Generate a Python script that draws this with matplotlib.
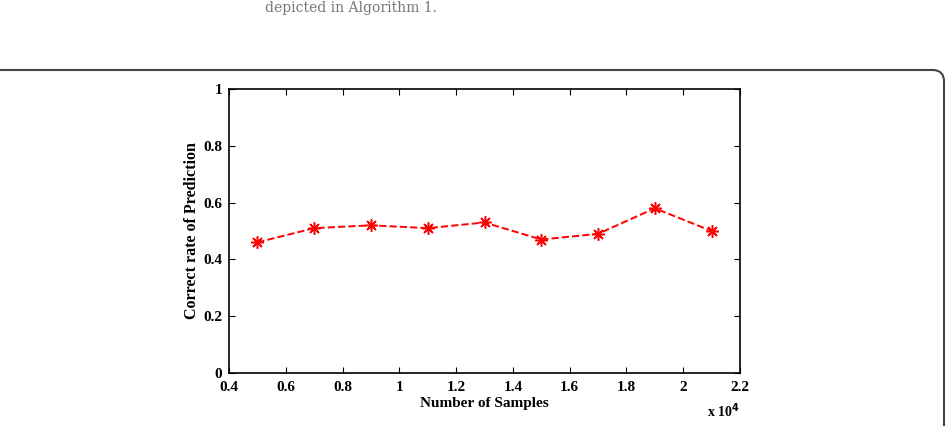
import matplotlib
matplotlib.use("Agg")
import matplotlib.pyplot as plt
from matplotlib.patches import FancyBboxPatch

# values
samples = [0.5, 0.7, 0.9, 1.1, 1.3, 1.5, 1.7, 1.9, 2.1]  # x 10^4
rate = [0.46, 0.51, 0.52, 0.51, 0.53, 0.47, 0.49, 0.58, 0.50]
xticks = [0.4, 0.6, 0.8, 1, 1.2, 1.4, 1.6, 1.8, 2, 2.2]
yticks = [0, 0.2, 0.4, 0.6, 0.8, 1]

plt.rcParams['font.family'] = 'Liberation Serif'
plt.rcParams['font.weight'] = 'bold'

fig = plt.figure(figsize=(9.47, 4.26), dpi=100)

# rounded frame around the figure panel
box = FancyBboxPatch((-0.02, -0.1), 0.02 + 944 / 947, 0.1 + 1 - 70 / 426,
                     boxstyle="round,pad=0,rounding_size=0.012",
                     transform=fig.transFigure, fill=False,
                     edgecolor='#444444', linewidth=1.5, mutation_aspect=947 / 426)
fig.patches.append(box)

# text of the page above the figure
fig.text(265 / 947, 1 - 1 / 426, "depicted in Algorithm 1.", fontsize=10,
         color='#777777', fontweight='normal', va='top', ha='left',
         family='DejaVu Serif')

ax = fig.add_axes([229 / 947, 1 - 373 / 426, (740 - 229) / 947, (373 - 89) / 426])
ax.plot(samples, rate, color='red', linestyle='--', linewidth=1.4,
        marker=(8, 2, 0), markersize=9, markeredgewidth=1.1)

ax.set_xlim(0.4, 2.2)
ax.set_ylim(0, 1)
ax.set_xticks(xticks)
ax.set_xticklabels(['0.4', '0.6', '0.8', '1', '1.2', '1.4', '1.6', '1.8', '2', '2.2'])
ax.set_yticks(yticks)
ax.set_yticklabels(['0', '0.2', '0.4', '0.6', '0.8', '1'])
ax.tick_params(direction='in', top=True, right=True, labelsize=11, length=4, width=0.8)
ax.tick_params(axis='x', pad=6)
ax.tick_params(axis='y', pad=5)
for s in ax.spines.values():
    s.set_linewidth(1.2)

ax.set_xlabel("Number of Samples", fontsize=11, fontweight='bold', labelpad=2)
ax.set_ylabel("Correct rate of Prediction", fontsize=11.5, fontweight='bold', labelpad=2)
ax.text(1.0, -0.1, r"x 10$^{\mathbf{4}}$", transform=ax.transAxes, fontsize=10,
        fontweight='bold', ha='right', va='top')

fig.savefig("out.png", dpi=100)
